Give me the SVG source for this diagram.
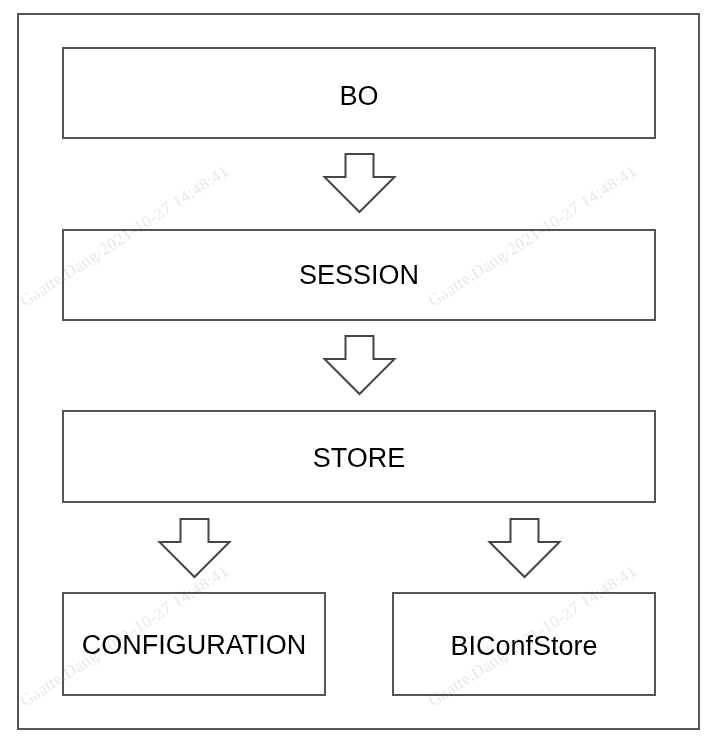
<svg xmlns="http://www.w3.org/2000/svg" width="718" height="743" viewBox="0 0 718 743">
<style>
.box{fill:#fff;stroke:#555;stroke-width:2}
.arr{fill:#fff;stroke:#444;stroke-width:2;stroke-linejoin:miter}
.lbl{font-family:"Liberation Sans",Arial,sans-serif;font-size:27px;fill:#000;text-anchor:middle}
.wm{font-family:"Liberation Serif","Times New Roman",serif;font-size:17px;fill:#e9e9e9;mix-blend-mode:multiply}
</style>
<defs>
<path id="down" d="M-14,0 H14 V23 H35 L0,58 L-35,23 H-14 Z"/>
</defs>
<rect width="718" height="743" fill="#fff"/>
<rect x="18" y="14" width="681" height="715" class="box"/>
<g id="connectors">
<use href="#down" class="arr" transform="translate(359.5,154)"/>
<use href="#down" class="arr" transform="translate(359.5,336)"/>
<use href="#down" class="arr" transform="translate(194.5,519)"/>
<use href="#down" class="arr" transform="translate(524.5,519)"/>
</g>
<g id="bo"><rect x="63" y="48" width="592" height="90" class="box"/><text class="lbl" x="359" y="105">BO</text></g>
<g id="session"><rect x="63" y="230" width="592" height="90" class="box"/><text class="lbl" x="359" y="284">SESSION</text></g>
<g id="store"><rect x="63" y="411" width="592" height="91" class="box"/><text class="lbl" x="359" y="467">STORE</text></g>
<g id="configuration"><rect x="63" y="593" width="262" height="102" class="box"/><text class="lbl" x="194" y="654">CONFIGURATION</text></g>
<g id="biconfstore"><rect x="393" y="593" width="262" height="102" class="box"/><text class="lbl" x="524" y="655">BIConfStore</text></g>
<g id="watermarks">
<text class="wm" transform="translate(25,307) rotate(-33)" textLength="244">Gaatte.Dang/2021-10-27 14:48:41</text>
<text class="wm" transform="translate(433,307) rotate(-33)" textLength="244">Gaatte.Dang/2021-10-27 14:48:41</text>
<text class="wm" transform="translate(25,707) rotate(-33)" textLength="244">Gaatte.Dang/2021-10-27 14:48:41</text>
<text class="wm" transform="translate(433,707) rotate(-33)" textLength="244">Gaatte.Dang/2021-10-27 14:48:41</text>
</g>
</svg>
